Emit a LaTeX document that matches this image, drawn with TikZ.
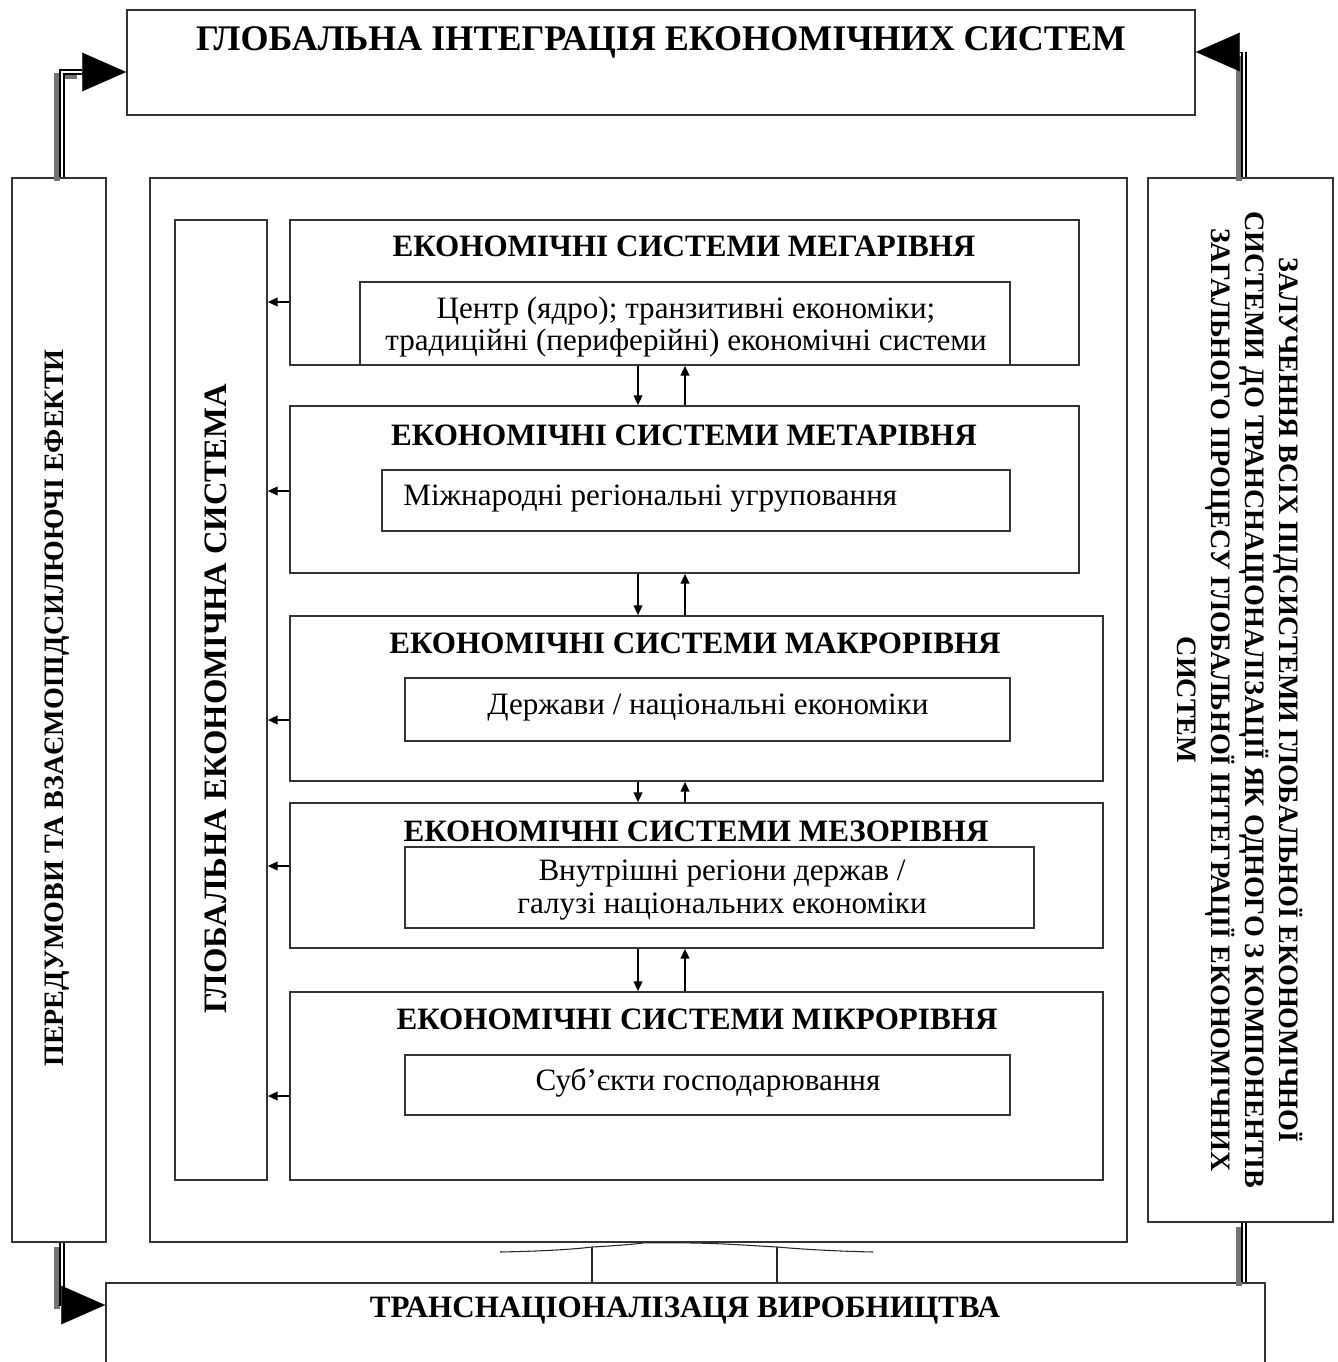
\documentclass[tikz,border=0pt]{standalone}
\usepackage{fontspec}
\setmainfont{Liberation Serif}
\usetikzlibrary{arrows.meta,fit,calc}
\begin{document}
\begin{tikzpicture}[x=0.02cm,y=-0.02cm,
  box/.style={draw=black!80, line width=1pt, inner sep=0pt},
  ttl/.style={font=\fontsize{17.7}{20}\selectfont\bfseries, inner sep=0pt},
  txt/.style={font=\fontsize{17.7}{18.6}\selectfont, inner sep=0pt, align=center},
  vtxt/.style={font=\fontsize{16}{19.3}\selectfont\bfseries, inner sep=0pt, align=center},
  arr/.style={draw=black, line width=0.7pt, -{Triangle[length=5.5pt,width=5pt]}},
  dbl/.style={draw=black, line width=1.1pt, double=white, double distance=1.2pt,
    preaction={draw=black!55, line width=3.6pt, transform canvas={xshift=-0.1cm, yshift=-0.08cm}}},
  bigtip/.style={draw=black, line width=0.1pt, -{Triangle[length=25pt,width=22pt]}},
  thinline/.style={draw=black!85, line width=0.6pt}
]
\useasboundingbox (0,0) rectangle (1338,1362);

% outer boxes
\node[box, fit={(127,10) (1195,115)}] (top) {};
\node[box, fit={(12,178) (106,1242)}] (lbox) {};
\node[box, fit={(150,178) (1127,1242)}] (mid) {};
\node[box, fit={(1148,178) (1333,1222)}] (rbox) {};
\node[box, fit={(106,1283) (1265,1420)}] (bot) {};
\node[box, fit={(175,220) (267,1180)}] (gsys) {};

% level boxes
\node[box, fit={(290,220) (1079,365)}] (L1) {};
\node[box, fit={(290,406) (1079,573)}] (L2) {};
\node[box, fit={(290,616) (1103,781)}] (L3) {};
\node[box, fit={(290,803) (1103,948)}] (L4) {};
\node[box, fit={(290,992) (1103,1180)}] (L5) {};
\node[box, fit={(360,282) (1010,365)}] (I1) {};
\node[box, fit={(382,470) (1010,531)}] (I2) {};
\node[box, fit={(405,678) (1010,741)}] (I3) {};
\node[box, fit={(405,847) (1034,928)}] (I4) {};
\node[box, fit={(405,1055) (1010,1115)}] (I5) {};

% texts
\node[ttl, font=\fontsize{20.5}{22}\selectfont\bfseries] (ttop) at (661,42) {ГЛОБАЛЬНА ІНТЕГРАЦІЯ ЕКОНОМІЧНИХ СИСТЕМ};
\node[ttl] (tbot) at (685,1311) {ТРАНСНАЦІОНАЛІЗАЦЯ ВИРОБНИЦТВА};
\node[vtxt, rotate=90] (tl) at (57,708) {ПЕРЕДУМОВИ ТА ВЗАЄМОПІДСИЛЮЮЧІ ЕФЕКТИ};
\node[ttl, font=\fontsize{18.6}{20}\selectfont\bfseries, rotate=90] (tg) at (216,699) {ГЛОБАЛЬНА ЕКОНОМІЧНА СИСТЕМА};
\node[vtxt, rotate=-90] (tr) at (1240,700) {ЗАЛУЧЕННЯ ВСІХ ПІДСИСТЕМИ ГЛОБАЛЬНОЇ ЕКОНОМІЧНОЇ\\
СИСТЕМИ ДО ТРАНСНАЦІОНАЛІЗАЦІЇ ЯК ОДНОГО З КОМПОНЕНТІВ\\
ЗАГАЛЬНОГО ПРОЦЕСУ ГЛОБАЛЬНОЇ ІНТЕГРАЦІЇ ЕКОНОМІЧНИХ\\
СИСТЕМ};

\node[ttl] (T1) at (684,246) {ЕКОНОМІЧНІ СИСТЕМИ МЕГАРІВНЯ};
\node[ttl] (T2) at (684,435) {ЕКОНОМІЧНІ СИСТЕМИ МЕТАРІВНЯ};
\node[ttl] (T3) at (695,643) {ЕКОНОМІЧНІ СИСТЕМИ МАКРОРІВНЯ};
\node[ttl] (T4) at (696,831) {ЕКОНОМІЧНІ СИСТЕМИ МЕЗОРІВНЯ};
\node[ttl] (T5) at (697,1019) {ЕКОНОМІЧНІ СИСТЕМИ МІКРОРІВНЯ};

\node[txt] (X1) at (686,327) {Центр (ядро); транзитивні економіки;\\традиційні (периферійні) економічні системи};
\node[txt, anchor=west] (X2) at (403,499) {Міжнародні регіональні угруповання};
\node[txt] (X3) at (708,708) {Держави / національні економіки};
\node[txt] (X4) at (722,890) {Внутрішні регіони держав /\\галузі національних економіки};
\node[txt] (X5) at (708,1083) {Суб’єкти господарювання};

% arrows to global economic system
\foreach \i/\yy in {1/302,2/491,3/720,4/866,5/1096}{
  \coordinate (la\i) at (0,\yy);
  \draw[arr] (L\i.west |- la\i) -- (gsys.east |- la\i);
}

% vertical arrows between levels
\coordinate (dx) at (638,0);
\coordinate (ux) at (685,0);
\foreach \a/\b in {1/2,2/3,3/4,4/5}{
  \draw[arr] (L\a.south -| dx) -- (L\b.north -| dx);
  \draw[arr] (L\b.north -| ux) -- (L\a.south -| ux);
}

% double connectors
\coordinate (lx) at (62,0);
\coordinate (rx) at (1244,0);
\coordinate (tl1) at (82,72);
\coordinate (tr1) at (1240,52);
\coordinate (bl1) at (58,1305);
\draw[dbl] (lbox.north -| lx) -- (lx |- tl1) -- (tl1);
\draw[bigtip] (tl1) -- (top.west |- tl1);
\draw[dbl] (rbox.north -| rx) -- (rx |- tr1);
\draw[bigtip] (tr1) -- (top.east |- tr1);
\draw[dbl] (lbox.south -| lx) -- (lx |- bl1);
\draw[bigtip] (bl1) -- (bot.west |- bl1);
\draw[dbl] (rbox.south -| rx) -- (bot.north -| rx);

% brace-like connector between middle box and bottom box
\coordinate (c1) at (592,1247);
\coordinate (c2) at (777,1247);
\draw[thinline] (500,1252) .. controls (550,1251) and (575,1249) .. (c1)
  .. controls (630,1245) and (655,1242) .. (mid.south)
  .. controls (710,1242) and (740,1245) .. (c2)
  .. controls (800,1249) and (830,1251) .. (873,1252);
\draw[thinline] (c1) -- (bot.north -| c1);
\draw[thinline] (c2) -- (bot.north -| c2);
\end{tikzpicture}
\end{document}
